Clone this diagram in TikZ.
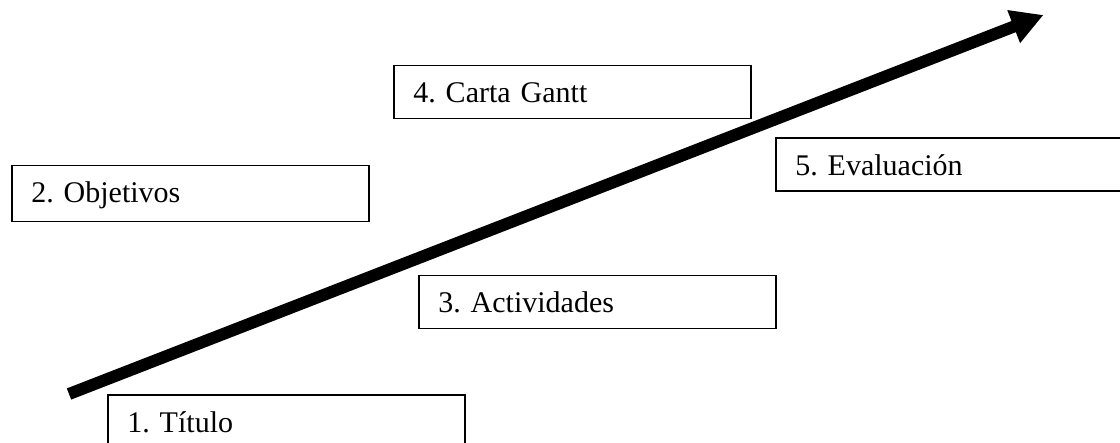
\documentclass[tikz,border=0pt]{standalone}
\usepackage{fontspec}
\setmainfont{Liberation Serif}
\usetikzlibrary{arrows.meta}
\frenchspacing
\begin{document}
\begin{tikzpicture}[x=1pt,y=1pt,
  stagebox/.style={draw=black, line width=1.5pt, rectangle, anchor=north west,
    inner xsep=19.5pt, inner ysep=0pt, text height=37pt, text depth=16pt,
    text width=318pt, align=left, font=\fontsize{30}{36}\selectfont\frenchspacing},
  bigarrow/.style={line width=12pt, -{Triangle[length=32pt,width=33pt]}}
]
\useasboundingbox (0,0) rectangle (1120,443);
\clip (0,0) rectangle (1120,443);
\fill[white] (0,0) rectangle (1120,443);
\coordinate (tail) at (69,{443-394});
\coordinate (tip) at (1043.5,{443-15});
\draw[bigarrow] (tail) -- (tip);
\node[stagebox] (b4) at (393,{443-65}) {4. Carta Gantt};
\node[stagebox, text depth=19pt] (b2) at (11,{443-165}) {2. Objetivos};
\node[stagebox, text width=330pt] (b5) at (775,{443-137.5}) {5. Evaluación};
\node[stagebox] (b3) at (418,{443-275}) {3. Actividades};
\node[stagebox] (b1) at (107,{443-394.5}) {1. Título};
\end{tikzpicture}
\end{document}
